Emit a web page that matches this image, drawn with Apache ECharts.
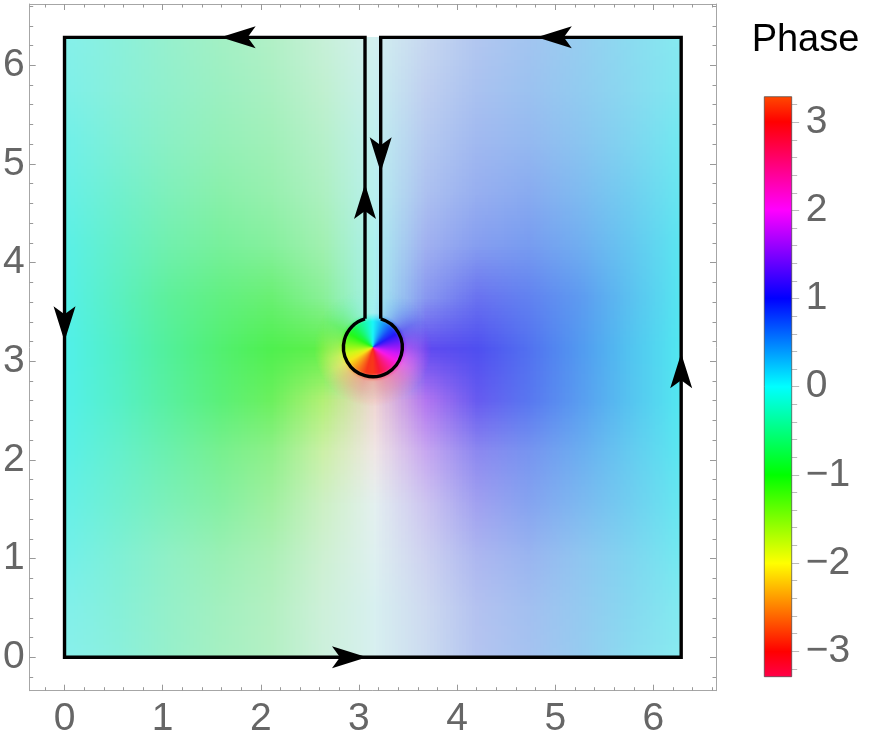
<!DOCTYPE html>
<html>
<head>
<meta charset="utf-8">
<script src="https://cdn.jsdelivr.net/npm/echarts@6/dist/echarts.min.js"></script>
<style>
html,body{margin:0;padding:0;background:#fff}
#chart{width:872px;height:750px}
</style>
</head>
<body>
<div id="chart"></div>
<script>
// ---------------- data ----------------
const X_RANGE = [-0.355, 6.638];
const Y_RANGE = [-0.339, 6.621];
const AXIS_TICKS = [0, 1, 2, 3, 4, 5, 6];
const AXIS_MINOR_TICKS = [-0.2, 0.2, 0.4, 0.6, 0.8, 1.2, 1.4, 1.6, 1.8, 2.2, 2.4, 2.6, 2.8,
  3.2, 3.4, 3.6, 3.8, 4.2, 4.4, 4.6, 4.8, 5.2, 5.4, 5.6, 5.8, 6.2, 6.4, 6.6];

// sample positions of the phase field (both x and y), 0 .. 2π
const SAMPLE_COORDS = [0, 0.5236, 1.0472, 1.5708, 2.0944, 2.618, 3.1416, 3.6652, 4.1888, 4.7124, 5.236, 5.7596, 6.2832];
// phase (radians) at each sample; row index = y sample, column = x sample
const PHASE = [
  [-0.04,-0.19,-0.40,-0.60,-0.72,-0.56,0.00,0.56,0.72,0.60,0.40,0.19,0.04],
  [-0.04,-0.22,-0.42,-0.62,-0.77,-0.65,0.00,0.65,0.77,0.62,0.42,0.22,0.04],
  [-0.04,-0.23,-0.44,-0.68,-0.85,-0.90,0.00,0.90,0.85,0.68,0.44,0.23,0.04],
  [-0.05,-0.25,-0.48,-0.72,-1.00,-1.20,0.00,1.20,1.00,0.72,0.48,0.26,0.05],
  [-0.05,-0.25,-0.50,-0.80,-1.06,-1.50,3.10,1.45,1.04,0.76,0.50,0.26,0.05],
  [-0.04,-0.26,-0.53,-0.80,-1.10,-1.50,3.10,1.50,1.08,0.80,0.55,0.28,0.04],
  [-0.04,-0.27,-0.54,-0.80,-1.00,-1.13,0.00,1.13,1.00,0.80,0.54,0.27,0.04],
  [-0.05,-0.31,-0.58,-0.78,-0.93,-0.85,0.00,0.85,0.93,0.78,0.58,0.31,0.05],
  [-0.06,-0.29,-0.52,-0.70,-0.78,-0.80,0.00,0.80,0.78,0.70,0.52,0.29,0.06],
  [-0.06,-0.26,-0.47,-0.67,-0.73,-0.70,0.00,0.70,0.73,0.67,0.47,0.26,0.06],
  [-0.05,-0.23,-0.43,-0.60,-0.69,-0.66,0.00,0.66,0.69,0.60,0.43,0.23,0.05],
  [-0.05,-0.21,-0.38,-0.55,-0.66,-0.66,0.00,0.66,0.66,0.55,0.38,0.21,0.05],
  [-0.05,-0.20,-0.38,-0.56,-0.66,-0.60,0.00,0.60,0.66,0.56,0.38,0.20,0.05]
];
// magnitude shading (0 = full colour, 1 = white) at each sample
const SHADE = [
  [0.57,0.58,0.63,0.69,0.75,0.85,0.90,0.85,0.75,0.69,0.63,0.58,0.57],
  [0.54,0.56,0.62,0.68,0.75,0.86,0.90,0.86,0.75,0.68,0.62,0.56,0.54],
  [0.48,0.53,0.60,0.64,0.72,0.86,0.93,0.86,0.72,0.64,0.60,0.53,0.48],
  [0.43,0.47,0.52,0.56,0.67,0.82,0.95,0.82,0.67,0.56,0.52,0.47,0.43],
  [0.38,0.42,0.45,0.50,0.57,0.70,0.96,0.70,0.57,0.50,0.45,0.42,0.38],
  [0.35,0.36,0.37,0.38,0.39,0.49,0.88,0.49,0.38,0.37,0.37,0.36,0.35],
  [0.34,0.34,0.34,0.34,0.33,0.31,0.50,0.31,0.33,0.34,0.34,0.34,0.34],
  [0.36,0.38,0.39,0.41,0.44,0.57,0.70,0.57,0.44,0.41,0.39,0.38,0.36],
  [0.38,0.42,0.47,0.50,0.56,0.67,0.72,0.67,0.56,0.50,0.47,0.42,0.38],
  [0.43,0.47,0.53,0.57,0.63,0.72,0.77,0.72,0.63,0.57,0.53,0.47,0.43],
  [0.47,0.53,0.58,0.62,0.67,0.76,0.80,0.76,0.67,0.62,0.58,0.53,0.47],
  [0.53,0.57,0.61,0.65,0.71,0.80,0.84,0.80,0.71,0.65,0.61,0.57,0.53],
  [0.56,0.58,0.63,0.68,0.74,0.83,0.88,0.83,0.74,0.68,0.63,0.58,0.56]
];

// the singular point and the colour wheel around it (angles counter-clockwise from east)
const POLE = [3.1416, 3.1416];
const POLE_ANGLES = [0,15,30,45,60,75,90,105,120,135,150,165,180,195,210,225,240,255,270,285,300,315,330,345];
const POLE_PHASE = [1.57,1.31,1.05,0.79,0.52,0.26,0.00,-0.26,-0.52,-0.79,-1.05,-1.31,-1.57,-1.83,-2.09,-2.36,-2.62,-2.88,3.14,2.88,2.62,2.36,2.09,1.83];
const POLE_OUTER_SHADE = [0.31,0.33,0.38,0.48,0.56,0.64,0.68,0.64,0.56,0.48,0.38,0.33,0.31,0.36,0.42,0.48,0.55,0.62,0.68,0.62,0.55,0.48,0.42,0.36];
const POLE_BLEND_R = 0.6;

// integration contour (keyhole)
const SIDE = 6.2832;
const CIRCLE_R = 0.3;
const CUT_HALF = 0.08;
const CUT_Y = POLE[1] + Math.sqrt(CIRCLE_R * CIRCLE_R - CUT_HALF * CUT_HALF);
const CONTOUR = [
  [POLE[0] - CUT_HALF, CUT_Y], [POLE[0] - CUT_HALF, SIDE], [0, SIDE], [0, 0],
  [SIDE, 0], [SIDE, SIDE], [POLE[0] + CUT_HALF, SIDE], [POLE[0] + CUT_HALF, CUT_Y]
];
const ARROW_AT = 0.5;
const ARROW_BACK = 0.06;

// colour bar
const BAR_RANGE = [-3.29, 3.29];
const BAR_TICKS = [-3, -2, -1, 0, 1, 2, 3];
const BAR_MINOR_TICKS = [-3.2, -2.8, -2.6, -2.4, -2.2, -1.8, -1.6, -1.4, -1.2, -0.8, -0.6, -0.4, -0.2,
  0.2, 0.4, 0.6, 0.8, 1.2, 1.4, 1.6, 1.8, 2.2, 2.4, 2.6, 2.8, 3.2];
const BAR_STOPS = [3.29, 3, 2, 1, 0, -1, -2, -3, -3.29];

// ---------------- helpers ----------------
function hueRGB(phase) {
  const h = (((180 + 60 * phase) % 360) + 360) % 360;
  const f = n => { const k = (n + h / 60) % 6; return 1 - Math.max(0, Math.min(k, 4 - k, 1)); };
  return [f(5), f(3), f(1)];
}
function shadeRGB(phase, shade, top) {
  return hueRGB(phase).map(v => Math.round((v * (1 - shade) + shade) * top));
}
function rgba(c, a) { return 'rgba(' + c[0] + ',' + c[1] + ',' + c[2] + ',' + a + ')'; }

const FIELD_DATA = [];
for (let i = 0; i < SAMPLE_COORDS.length; i++) {
  for (let j = 0; j < SAMPLE_COORDS.length; j++) {
    FIELD_DATA.push([SAMPLE_COORDS[j], SAMPLE_COORDS[i], PHASE[i][j], SHADE[i][j]]);
  }
}
const POLE_DATA = POLE_ANGLES.map((a, k) => [a, POLE_PHASE[k], POLE_OUTER_SHADE[k]]);
const ARROW_DATA = [];
for (let k = 0; k < CONTOUR.length - 1; k++) {
  const a = CONTOUR[k], b = CONTOUR[k + 1];
  const dx = b[0] - a[0], dy = b[1] - a[1], len = Math.hypot(dx, dy);
  const ux = dx / len, uy = dy / len;
  ARROW_DATA.push([a[0] + dx * ARROW_AT - ux * ARROW_BACK, a[1] + dy * ARROW_AT - uy * ARROW_BACK, ux, uy]);
}

function buildFieldCanvas(W, H) {
  const n = SAMPLE_COORDS.length;
  const small = document.createElement('canvas');
  small.width = n; small.height = n;
  const sctx = small.getContext('2d');
  const img = sctx.createImageData(n, n);
  for (let i = 0; i < n; i++) {
    for (let j = 0; j < n; j++) {
      const c = shadeRGB(PHASE[i][j], SHADE[i][j], 240);
      const o = ((n - 1 - i) * n + j) * 4;
      img.data[o] = c[0]; img.data[o + 1] = c[1]; img.data[o + 2] = c[2]; img.data[o + 3] = 255;
    }
  }
  sctx.putImageData(img, 0, 0);
  const big = document.createElement('canvas');
  big.width = Math.max(1, Math.round(W)); big.height = Math.max(1, Math.round(H));
  const ctx = big.getContext('2d');
  ctx.imageSmoothingEnabled = true;
  ctx.imageSmoothingQuality = 'low';
  const sx = big.width / (n - 1), sy = big.height / (n - 1);
  ctx.drawImage(small, -sx / 2, -sy / 2, sx * n, sy * n);
  return big;
}

// one wheel layer: colours per angle (from POLE_DATA), then a radial alpha mask
function wheelLayer(R, colourOf, maskStops) {
  const size = Math.ceil(2 * R);
  const cv = document.createElement('canvas');
  cv.width = size; cv.height = size;
  const ctx = cv.getContext('2d');
  const c = size / 2;
  if (ctx.createConicGradient) {
    const g = ctx.createConicGradient(0, c, c);
    const stops = POLE_DATA.map(d => ({ off: (((-d[0]) % 360) + 360) % 360 / 360, col: colourOf(d) }));
    stops.sort((a, b) => a.off - b.off);
    stops.forEach(s => g.addColorStop(s.off, s.col));
    g.addColorStop(1, stops[0].col);
    ctx.fillStyle = g;
    ctx.fillRect(0, 0, size, size);
  } else {
    const half = 7.5 * Math.PI / 180;
    POLE_DATA.forEach(d => {
      const a = -d[0] * Math.PI / 180;
      ctx.beginPath(); ctx.moveTo(c, c);
      ctx.arc(c, c, R + 2, a - half - 0.01, a + half + 0.01);
      ctx.closePath(); ctx.fillStyle = colourOf(d); ctx.fill();
    });
  }
  ctx.globalCompositeOperation = 'destination-in';
  const m = ctx.createRadialGradient(c, c, 0, c, c, R);
  maskStops.forEach(s => m.addColorStop(s[0], 'rgba(0,0,0,' + s[1] + ')'));
  ctx.fillStyle = m;
  ctx.fillRect(0, 0, size, size);
  return cv;
}
function buildPoleCanvas(R) {
  const outer = wheelLayer(R, d => rgba(shadeRGB(d[1], d[2], 240), 1), [[0, 1], [0.5, 1], [0.75, 0.6], [1, 0]]);
  const inner = wheelLayer(R, d => rgba(shadeRGB(d[1], 0.1, 248), 1), [[0, 1], [0.44, 1], [0.5, 0.5], [0.58, 0]]);
  const size = outer.width;
  const cv = document.createElement('canvas');
  cv.width = size; cv.height = size;
  const ctx = cv.getContext('2d');
  ctx.drawImage(outer, 0, 0);
  ctx.drawImage(inner, 0, 0);
  return cv;
}

// ---------------- chart ----------------
const FONT = "'Liberation Sans', Arial, sans-serif";
const FRAME = '#a6a6a6';
const TICK = '#999999';
const LABEL = { color: '#666666', fontFamily: FONT, fontSize: 39 };
const minus = v => String(v).replace('-', '\u2212');

function ax(extra) {
  return Object.assign({
    type: 'value', splitLine: { show: false },
    axisLine: { show: false, onZero: false },
    axisLabel: { show: false }, axisTick: { show: false }
  }, extra);
}
function frameAxis(pos, range, labels, margin) {
  return ax({
    gridIndex: 0, position: pos, min: range[0], max: range[1],
    axisLine: { show: true, onZero: false, lineStyle: { color: FRAME, width: 1 } },
    axisTick: { show: true, inside: true, length: 6, customValues: AXIS_TICKS, lineStyle: { color: TICK, width: 1 } },
    axisLabel: labels ? Object.assign({ show: true, customValues: AXIS_TICKS, margin: margin, formatter: minus }, LABEL) : { show: false }
  });
}
function minorAxis(pos, range) {
  return ax({
    gridIndex: 0, position: pos, min: range[0], max: range[1],
    axisTick: { show: true, inside: true, length: 3.5, customValues: AXIS_MINOR_TICKS, lineStyle: { color: TICK, width: 1 } }
  });
}

const chart = echarts.init(document.getElementById('chart'), null, { renderer: 'canvas' });
chart.setOption({
  animation: false,
  backgroundColor: '#ffffff',
  grid: [
    { left: 27.3, right: 156, top: 4, bottom: 59.3 },
    { left: 764.3, right: 80.3, top: 96.7, bottom: 73.3 }
  ],
  graphic: [{
    type: 'text', x: 805.5, y: 41,
    style: { text: 'Phase', font: "38px 'Liberation Sans', Arial, sans-serif", fill: '#000',
      textAlign: 'center', textVerticalAlign: 'middle', align: 'center', verticalAlign: 'middle' }
  }],
  xAxis: [
    frameAxis('bottom', X_RANGE, true, 9),
    frameAxis('top', X_RANGE, false),
    minorAxis('bottom', X_RANGE),
    minorAxis('top', X_RANGE),
    ax({ gridIndex: 1, min: 0, max: 1, show: false })
  ],
  yAxis: [
    frameAxis('left', Y_RANGE, true, 5),
    frameAxis('right', Y_RANGE, false),
    minorAxis('left', Y_RANGE),
    minorAxis('right', Y_RANGE),
    ax({
      gridIndex: 1, position: 'right', min: BAR_RANGE[0], max: BAR_RANGE[1],
      axisTick: { show: true, inside: false, length: 7.5, customValues: BAR_TICKS, lineStyle: { color: '#bbbbbb' } },
      axisLabel: Object.assign({ show: true, customValues: BAR_TICKS, margin: 14, formatter: minus }, LABEL)
    }),
    ax({
      gridIndex: 1, position: 'right', min: BAR_RANGE[0], max: BAR_RANGE[1],
      axisTick: { show: true, inside: false, length: 5.5, customValues: BAR_MINOR_TICKS, lineStyle: { color: '#bbbbbb' } }
    })
  ],
  series: [
    {
      name: 'phase field', type: 'custom', xAxisIndex: 0, yAxisIndex: 0, z: 1,
      data: FIELD_DATA, encode: { x: 0, y: 1 }, silent: true,
      renderItem: function (params, api) {
        if (params.dataIndex !== 0) return null;
        const p0 = api.coord([SAMPLE_COORDS[0], SAMPLE_COORDS[SAMPLE_COORDS.length - 1]]);
        const p1 = api.coord([SAMPLE_COORDS[SAMPLE_COORDS.length - 1], SAMPLE_COORDS[0]]);
        const w = p1[0] - p0[0], h = p1[1] - p0[1];
        return { type: 'image', style: { image: buildFieldCanvas(w, h), x: p0[0], y: p0[1], width: w, height: h } };
      }
    },
    {
      name: 'pole', type: 'custom', xAxisIndex: 0, yAxisIndex: 0, z: 2,
      data: POLE_DATA, encode: { x: 0, y: 1 }, silent: true,
      renderItem: function (params, api) {
        if (params.dataIndex !== 0) return null;
        const c = api.coord(POLE);
        const R = api.size([POLE_BLEND_R, 0])[0];
        const cv = buildPoleCanvas(R);
        const s = cv.width;
        return { type: 'image', style: { image: cv, x: c[0] - s / 2, y: c[1] - s / 2, width: s, height: s } };
      }
    },
    {
      name: 'contour', type: 'line', xAxisIndex: 0, yAxisIndex: 0, z: 3,
      data: CONTOUR, symbol: 'none', silent: true,
      lineStyle: { color: '#000', width: 3.4, join: 'miter', cap: 'butt' }
    },
    {
      name: 'contour circle', type: 'custom', xAxisIndex: 0, yAxisIndex: 0, z: 3,
      data: [[POLE[0], POLE[1], CIRCLE_R]], silent: true,
      renderItem: function (params, api) {
        const c = api.coord([api.value(0), api.value(1)]);
        const r = api.size([api.value(2), 0])[0];
        const k = CUT_Y - POLE[1];
        const start = Math.atan2(-k, CUT_HALF);
        const end = Math.atan2(-k, -CUT_HALF) + 2 * Math.PI;
        return {
          type: 'arc',
          shape: { cx: c[0], cy: c[1], r: r, startAngle: start, endAngle: end, clockwise: true },
          style: { stroke: '#000', lineWidth: 3.4, fill: null }
        };
      }
    },
    {
      name: 'arrows', type: 'custom', xAxisIndex: 0, yAxisIndex: 0, z: 4,
      data: ARROW_DATA, silent: true,
      renderItem: function (params, api) {
        const tx = api.value(0), ty = api.value(1), ux = api.value(2), uy = api.value(3);
        const tip = api.coord([tx, ty]);
        const back = api.coord([tx - ux * 0.1, ty - uy * 0.1]);
        let dx = tip[0] - back[0], dy = tip[1] - back[1];
        const l = Math.hypot(dx, dy); dx /= l; dy /= l;
        const nx = -dy, ny = dx;
        const L = 35, W = 11, N = 8;
        return {
          type: 'polygon',
          shape: { points: [
            [tip[0], tip[1]],
            [tip[0] - L * dx + W * nx, tip[1] - L * dy + W * ny],
            [tip[0] - (L - N) * dx, tip[1] - (L - N) * dy],
            [tip[0] - L * dx - W * nx, tip[1] - L * dy - W * ny]
          ] },
          style: { fill: '#000' }
        };
      }
    },
    {
      name: 'colour bar', type: 'custom', xAxisIndex: 4, yAxisIndex: 4, z: 2,
      data: [[0, 0]], silent: true,
      renderItem: function (params, api) {
        const p0 = api.coord([0, BAR_RANGE[1]]);
        const p1 = api.coord([1, BAR_RANGE[0]]);
        const span = BAR_RANGE[1] - BAR_RANGE[0];
        return {
          type: 'rect',
          shape: { x: p0[0], y: p0[1], width: p1[0] - p0[0], height: p1[1] - p0[1] },
          style: {
            fill: {
              type: 'linear', x: 0, y: 0, x2: 0, y2: 1,
              colorStops: BAR_STOPS.map(v => ({ offset: (BAR_RANGE[1] - v) / span, color: rgba(shadeRGB(v, 0, 255), 1) }))
            },
            stroke: 'rgba(70,70,70,0.7)', lineWidth: 1
          }
        };
      }
    }
  ]
});
</script>
</body>
</html>
